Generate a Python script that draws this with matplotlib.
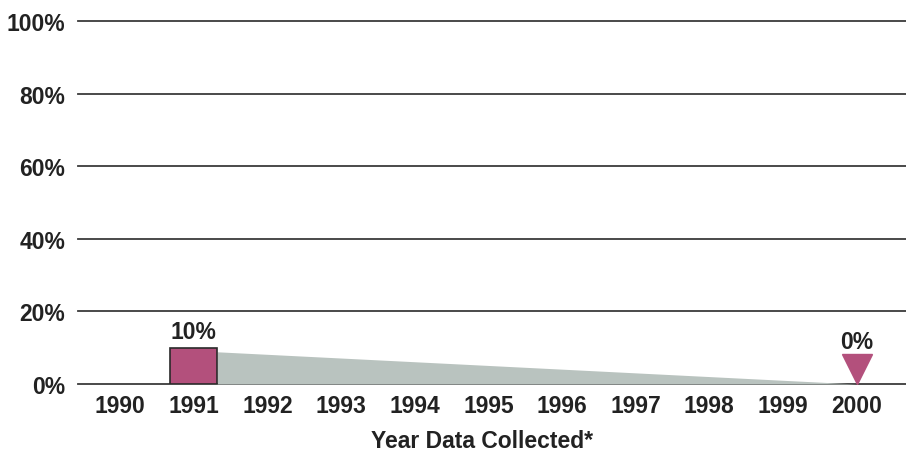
import matplotlib
matplotlib.use('Agg')
import matplotlib.pyplot as plt
import matplotlib.transforms as mtransforms
import numpy as np

years = [1990, 1991, 1992, 1993, 1994, 1995, 1996, 1997, 1998, 1999, 2000]
bar_year = 1991
bar_value = 10
end_year = 2000
end_value = 0
y_ticks = [0, 20, 40, 60, 80, 100]

pink = '#b3507c'
shade = '#b9c3bf'
grid_col = '#3a3a3a'
txt_col = '#222222'
fs = 16.5

plt.rcParams['font.family'] = ['Liberation Sans', 'DejaVu Sans']

fig = plt.figure(figsize=(9.06, 4.52), dpi=100)
ax = fig.add_axes([78 / 906, 67 / 452, 1 - 78 / 906, 363 / 452])
ax.set_xlim(1989.43, 2000.67)
ax.set_ylim(0, 100)

# horizontal rules instead of a frame
for v in y_ticks:
    ax.axhline(v, color=grid_col, lw=1.3, zorder=1, clip_on=False)
for s in ax.spines.values():
    s.set_visible(False)

# shaded trend from the 1991 bar down to the 2000 value
bw = 0.64
xs = np.array([bar_year + bw / 2, end_year])
trend = np.interp(xs, [bar_year, end_year], [bar_value, end_value]) * 0.92
ax.fill_between(xs, trend, 0, color=shade, lw=0, zorder=2)

ax.bar([bar_year], [bar_value], width=bw, color=pink, edgecolor='#2a2a2a', lw=1.2, zorder=3)
ax.text(bar_year, bar_value + 1.4, f'{bar_value}%', ha='center', va='bottom',
        fontsize=fs, fontweight='bold', color=txt_col)

# downward marker with its tip on the 2000 value
tri_tr = mtransforms.offset_copy(ax.transData, fig=fig, y=10.5, units='points')
ax.plot([end_year], [end_value], marker='v', markersize=21, color=pink,
        transform=tri_tr, zorder=4, clip_on=False)
ax.text(end_year, end_value + 8.6, f'{end_value}%', ha='center', va='bottom',
        fontsize=fs, fontweight='bold', color=txt_col)

ax.set_yticks(y_ticks)
ax.set_yticklabels([f'{v}%' for v in y_ticks], fontsize=fs, fontweight='bold', color=txt_col)
ax.set_xticks(years)
ax.set_xticklabels([str(y) for y in years], fontsize=fs, fontweight='bold', color=txt_col)
ax.tick_params(length=0, axis='y', pad=9)
ax.tick_params(length=0, axis='x', pad=7)
ax.set_xlabel('Year Data Collected*', fontsize=fs, fontweight='bold', color=txt_col)
ax.xaxis.set_label_coords((482 - 78) / (906 - 78), -0.125)

fig.savefig('out.png', dpi=100)
